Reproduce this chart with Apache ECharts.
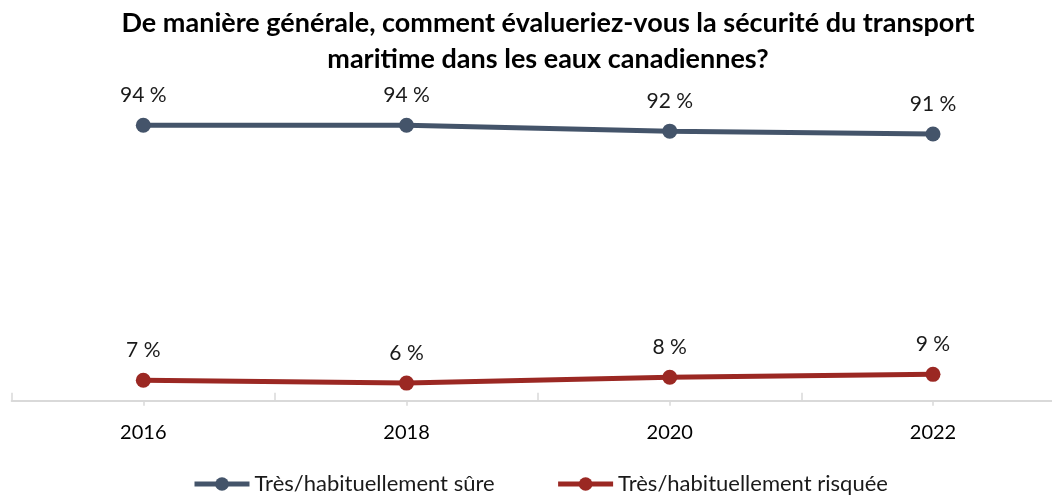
<!DOCTYPE html>
<html>
<head>
<meta charset="utf-8">
<script src="https://cdn.jsdelivr.net/npm/echarts@6/dist/echarts.min.js"></script>
<style>
  html, body { margin: 0; padding: 0; background: #fff; }
  #chart { width: 1052px; height: 495px; }
</style>
</head>
<body>
<div id="chart"></div>
<script>
var years = ['2016', '2018', '2020', '2022'];
var sure = [94, 94, 92, 91];
var risky = [7, 6, 8, 9];
var seriesNames = ['Très/habituellement sûre', 'Très/habituellement risquée'];
var colors = ['#44546A', '#9B2823'];

var font = 'Lato, "Open Sans", sans-serif';
var myChart = echarts.init(document.getElementById('chart'));

function lineSeries(name, data, color) {
  return {
    name: name,
    type: 'line',
    data: data,
    symbol: 'circle',
    symbolSize: 15,
    color: color,
    lineStyle: { width: 5, color: color },
    itemStyle: { color: color },
    label: {
      show: true,
      position: 'top',
      distance: 12,
      fontFamily: font,
      fontSize: 21,
      color: '#1a1a1a',
      formatter: function(p) { return p.value + ' %'; }
    },
    animation: false
  };
}

var option = {
  title: {
    text: 'De manière générale, comment évalueriez-vous la sécurité du transport\nmaritime dans les eaux canadiennes?',
    left: 543,
    top: 0,
    textAlign: 'center',
    textStyle: {
      fontFamily: font,
      fontWeight: 'bold',
      fontSize: 27,
      lineHeight: 36,
      color: '#000'
    }
  },
  legend: {
    data: seriesNames,
    top: 468,
    left: 187,
    itemWidth: 55,
    itemHeight: 17,
    itemGap: 61,
    lineStyle: { width: 5 },
    textStyle: { fontFamily: font, fontSize: 22, color: '#1a1a1a' }
  },
  grid: {
    left: 11.7,
    right: -12.6,
    top: 107.7,
    bottom: 94.3,
    outerBoundsMode: 'none',
    containLabel: false
  },
  xAxis: [
    {
      type: 'category',
      data: years,
      position: 'bottom',
      boundaryGap: true,
      axisLine: { show: true, lineStyle: { color: '#d9d9d9', width: 2 } },
      axisTick: { show: true, inside: true, length: 8, lineStyle: { color: '#d9d9d9', width: 1.5 } },
      axisLabel: { margin: 22, fontFamily: font, fontSize: 20, color: '#000' },
      splitLine: { show: false }
    },
    {
      type: 'category',
      data: years,
      position: 'bottom',
      boundaryGap: true,
      axisLine: { show: false },
      axisTick: { show: true, alignWithLabel: true, length: 5, lineStyle: { color: '#d9d9d9', width: 1.5 } },
      axisLabel: { show: false },
      splitLine: { show: false }
    }
  ],
  yAxis: {
    type: 'value',
    min: 0,
    max: 100,
    show: false
  },
  series: [
    lineSeries(seriesNames[0], sure, colors[0]),
    lineSeries(seriesNames[1], risky, colors[1])
  ]
};

myChart.setOption(option);
</script>
</body>
</html>
